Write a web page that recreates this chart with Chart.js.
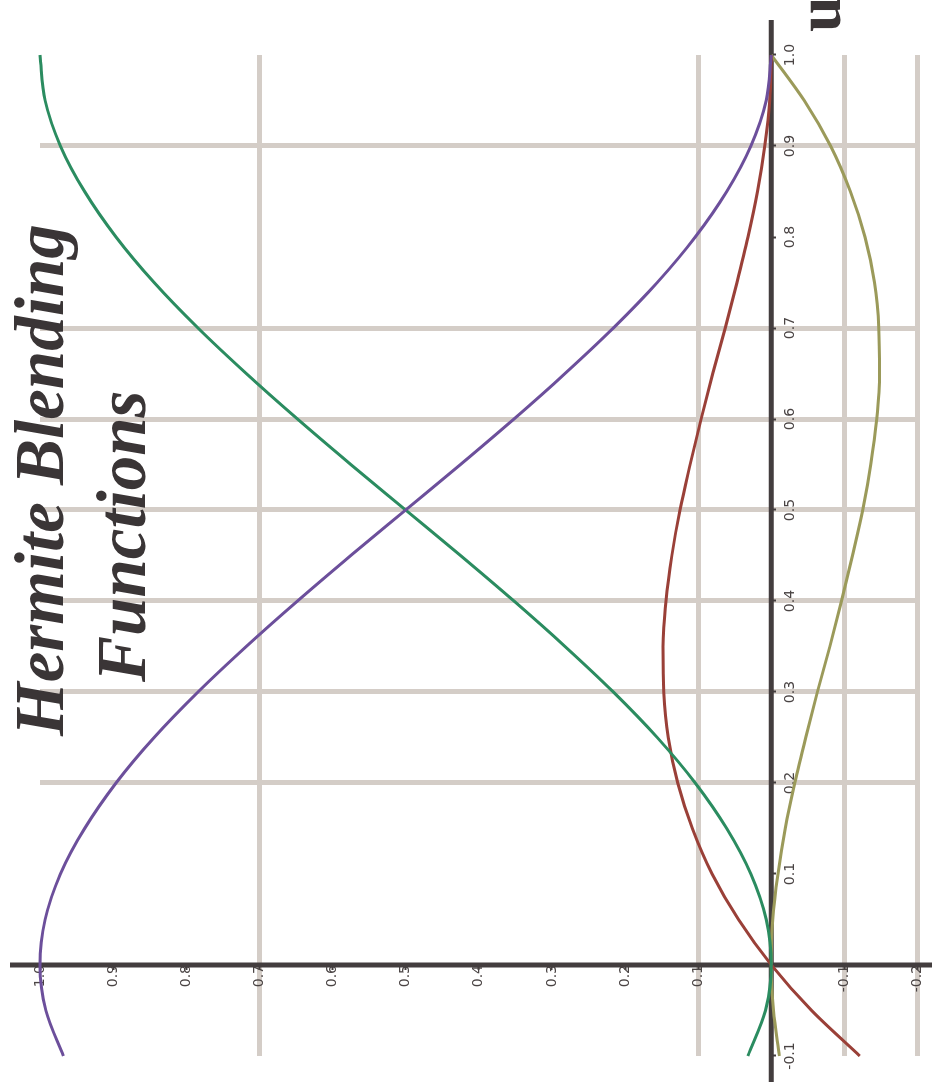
<!DOCTYPE html>
<html>
<head>
<meta charset="utf-8">
<script src="https://cdn.jsdelivr.net/npm/chart.js@4.4.1/dist/chart.umd.min.js"></script>
<style>
  html, body { margin: 0; padding: 0; background: #fff; overflow: hidden; }
  #wrap { position: relative; width: 932px; height: 1088px; }
  /* the chart is drawn lying on its side, like the picture */
  #chart { position: absolute; left: 0; top: 0; transform-origin: 0 0; transform: translate(0, 1088px) rotate(-90deg); }
</style>
</head>
<body>
<div id="wrap"><canvas id="chart" width="1088" height="932"></canvas></div>
<script>
// parameter u along the curve
const uValues = [-0.1, -0.05, 0, 0.05, 0.1, 0.15, 0.2, 0.25, 0.3, 0.35, 0.4, 0.45, 0.5,
  0.55, 0.6, 0.65, 0.7, 0.75, 0.8, 0.85, 0.9, 0.95, 1.0];

// the four blending functions
const h1Values = [0.968, 0.992, 1, 0.993, 0.972, 0.939, 0.896, 0.844, 0.784, 0.718, 0.648, 0.575, 0.5,
  0.425, 0.352, 0.282, 0.216, 0.156, 0.104, 0.061, 0.028, 0.007, 0];
const h2Values = [0.032, 0.008, 0, 0.007, 0.028, 0.061, 0.104, 0.156, 0.216, 0.282, 0.352, 0.425, 0.5,
  0.575, 0.648, 0.718, 0.784, 0.844, 0.896, 0.939, 0.972, 0.993, 1];
const h3Values = [-0.121, -0.055, 0, 0.045, 0.081, 0.108, 0.128, 0.141, 0.147, 0.148, 0.144, 0.136, 0.125,
  0.111, 0.096, 0.080, 0.063, 0.047, 0.032, 0.019, 0.009, 0.002, 0];
const h4Values = [-0.011, -0.003, 0, -0.002, -0.009, -0.019, -0.032, -0.047, -0.063, -0.080, -0.096, -0.111, -0.125,
  -0.136, -0.144, -0.148, -0.147, -0.141, -0.128, -0.108, -0.081, -0.045, 0];

// ticks and which of them get a grid line
const uTicks = [-0.1, 0, 0.1, 0.2, 0.3, 0.4, 0.5, 0.6, 0.7, 0.8, 0.9, 1.0];
const valueTicks = [-0.2, -0.1, 0, 0.1, 0.2, 0.3, 0.4, 0.5, 0.6, 0.7, 0.8, 0.9, 1.0];
const uGridAt = [0.2, 0.3, 0.4, 0.5, 0.6, 0.7, 0.9];
const valueGridAt = [-0.2, -0.1, 0.1, 0.7];

const titleLines = ['Hermite Blending', 'Functions'];
const axisLabel = 'u';

const axisColor = '#433d3e';
const gridColor = '#d4cdc7';

const toPoints = values => values.map((v, i) => ({ x: uValues[i], y: v }));
const same = (a, b) => Math.abs(a - b) < 1e-6;

const makeSet = (values, color) => ({
  data: toPoints(values),
  borderColor: color,
  borderWidth: 3,
  pointRadius: 0,
  showLine: true,
  cubicInterpolationMode: 'monotone',
  clip: false,
});

const axesAndTitle = {
  id: 'axesAndTitle',
  beforeDatasetsDraw(chart) {
    const { ctx, scales: { x, y } } = chart;
    const x0 = x.getPixelForValue(0);
    const y0 = y.getPixelForValue(0);
    ctx.save();
    ctx.strokeStyle = axisColor;
    ctx.lineWidth = 5;
    ctx.beginPath();
    ctx.moveTo(6, y0);
    ctx.lineTo(1068, y0);
    ctx.moveTo(x0, 10);
    ctx.lineTo(x0, 932);
    ctx.stroke();
    ctx.restore();
  },
  afterDraw(chart) {
    const { ctx } = chart;
    ctx.save();
    ctx.fillStyle = '#3a3536';
    ctx.textAlign = 'left';
    ctx.textBaseline = 'alphabetic';
    ctx.font = 'bold italic 69px "Liberation Serif", serif';
    ctx.fillText(titleLines[0], 352, 63);
    ctx.fillText(titleLines[1], 406, 145);
    ctx.font = 'bold 64px "Liberation Serif", serif';
    ctx.fillText(axisLabel, 1056, 840);
    ctx.restore();
  },
};

new Chart(document.getElementById('chart'), {
  type: 'scatter',
  data: {
    datasets: [
      makeSet(h1Values, '#6c4f9b'),
      makeSet(h2Values, '#2b8c60'),
      makeSet(h3Values, '#9a4038'),
      makeSet(h4Values, '#9b9a5a'),
    ],
  },
  options: {
    responsive: false,
    animation: false,
    devicePixelRatio: 1,
    layout: { padding: { left: 32, right: 55, top: 40, bottom: 14 } },
    plugins: { legend: { display: false }, tooltip: { enabled: false } },
    scales: {
      x: {
        type: 'linear',
        min: -0.1,
        max: 1.0,
        position: { y: 0 },
        afterBuildTicks: scale => { scale.ticks = uTicks.map(v => ({ value: v })); },
        grid: {
          lineWidth: 5,
          color: c => uGridAt.some(v => same(v, c.tick ? c.tick.value : NaN)) ? gridColor : 'rgba(0,0,0,0)',
          tickColor: axisColor,
          tickLength: 5,
          tickWidth: 2,
        },
        border: { display: false },
        ticks: {
          maxRotation: 0,
          autoSkip: false,
          padding: 6,
          color: '#4a4444',
          font: { family: 'DejaVu Sans', size: 14 },
          callback: v => same(v, 0) ? '' : Number(v).toFixed(1),
        },
      },
      y: {
        type: 'linear',
        min: -0.2,
        max: 1.0,
        position: { x: 0 },
        afterBuildTicks: scale => { scale.ticks = valueTicks.map(v => ({ value: v })); },
        grid: {
          lineWidth: 5,
          color: c => valueGridAt.some(v => same(v, c.tick ? c.tick.value : NaN)) ? gridColor : 'rgba(0,0,0,0)',
          tickColor: axisColor,
          tickLength: 5,
          tickWidth: 2,
        },
        border: { display: false },
        ticks: {
          autoSkip: false,
          padding: 6,
          color: '#4a4444',
          font: { family: 'DejaVu Sans', size: 14 },
          callback: v => same(v, 0) ? '' : Number(v).toFixed(1),
        },
      },
    },
  },
  plugins: [axesAndTitle],
});
</script>
</body>
</html>
